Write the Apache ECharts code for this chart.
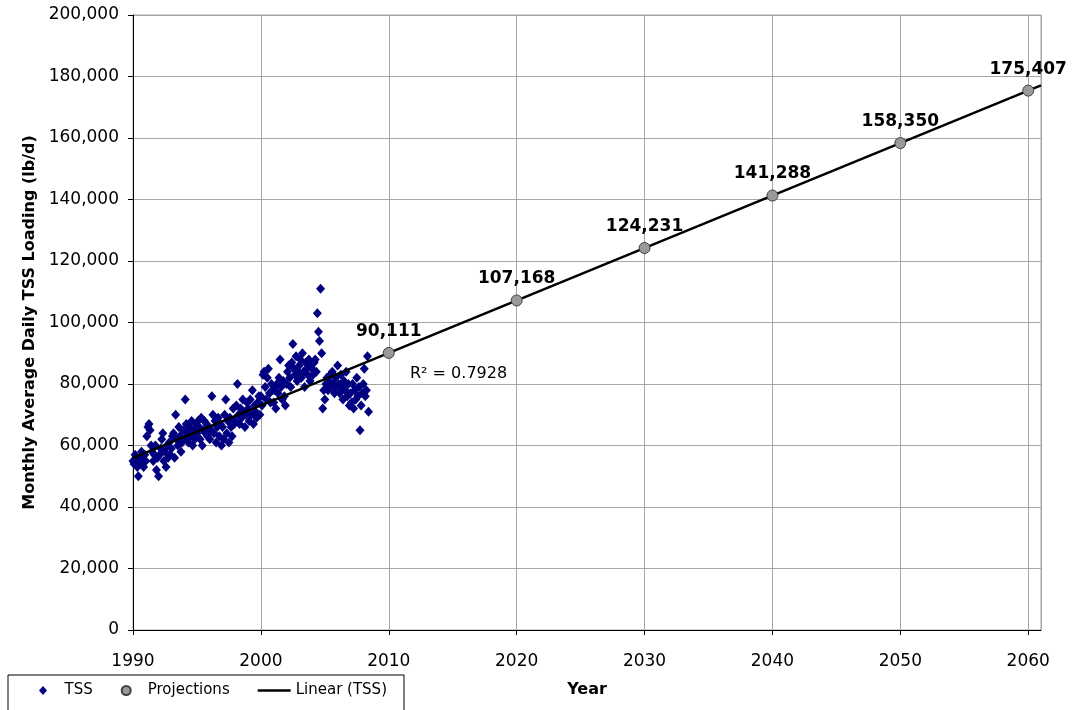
<!DOCTYPE html>
<html>
<head>
<meta charset="utf-8">
<script src="https://cdn.jsdelivr.net/npm/echarts@6/dist/echarts.min.js"></script>
<style>
  html, body { margin: 0; padding: 0; background: #fff; }
  #chart { width: 1072px; height: 710px; }
</style>
</head>
<body>
<div id="chart"></div>
<script>
// monthly TSS loading (lb/d), Jan 1990 onwards, one row per year
const tssStart = 1990;
const tssMonthly = [
  55000, 54000, 57000, 56000, 53000, 50000, 55000, 54000, 58000, 56000, 53000, 57000, // 1990
  55000, 63000, 66000, 67000, 65000, 60000, 58000, 55000, 57000, 60000, 52000, 56000, // 1991
  50000, 57000, 59000, 62000, 64000, 55000, 58000, 53000, 60000, 56000, 61000, 57000, // 1992
  59000, 63000, 64000, 56000, 70000, 62000, 60000, 66000, 63000, 58000, 61000, 65000, // 1993
  62000, 75000, 67000, 64000, 61000, 66000, 63000, 68000, 60000, 65000, 62000, 67000, // 1994
  64000, 68000, 66000, 62000, 69000, 60000, 65000, 68000, 64000, 67000, 63000, 66000, // 1995
  62000, 65000, 76000, 70000, 64000, 68000, 61000, 66000, 69000, 63000, 67000, 60000, // 1996
  66000, 62000, 70000, 75000, 64000, 68000, 61000, 69000, 66000, 63000, 72000, 67000, // 1997
  68000, 73000, 80000, 70000, 67000, 72000, 69000, 75000, 71000, 66000, 70000, 74000, // 1998
  72000, 68000, 75000, 70000, 78000, 67000, 73000, 71000, 69000, 74000, 76000, 70000, // 1999
  76000, 73000, 83000, 84000, 79000, 75000, 82000, 85000, 77000, 74000, 80000, 78000, // 2000
  74000, 78000, 72000, 80000, 77000, 82000, 88000, 79000, 75000, 81000, 76000, 73000, // 2001
  80000, 84000, 86000, 82000, 79000, 87000, 93000, 85000, 83000, 89000, 81000, 84000, // 2002
  86000, 88000, 82000, 90000, 84000, 79000, 87000, 85000, 83000, 88000, 81000, 86000, // 2003
  85000, 83000, 87000, 88000, 84000, 103000, 97000, 94000, 111000, 90000, 72000, 78000, // 2004
  75000, 80000, 82000, 78000, 81000, 83000, 79000, 84000, 80000, 77000, 82000, 79000, // 2005
  86000, 80000, 77000, 83000, 79000, 75000, 81000, 78000, 84000, 76000, 80000, 73000, // 2006
  77000, 74000, 80000, 72000, 78000, 75000, 82000, 76000, 79000, 65000, 73000, 77000, // 2007
  80000, 85000, 76000, 78000, 89000, 71000                                              // 2008
];

const projYears = [2010, 2020, 2030, 2040, 2050, 2060];
const projValues = [90111, 107168, 124231, 141288, 158350, 175407];

// linear trend of TSS, drawn across the whole plot
const trendYears = [1990, 2061];
const trendValues = [55993, 177113];

const chart = echarts.init(document.getElementById('chart'));
const font = 'DejaVu Sans, Verdana, sans-serif';
const fmt = v => Math.round(v).toLocaleString('en-US');

const tssData = tssMonthly.map((v, i) => [tssStart + i / 12, v]);
const projData = projYears.map((y, i) => [y, projValues[i]]);
const trendData = trendYears.map((y, i) => [y, trendValues[i]]);

const option = {
  animation: false,
  backgroundColor: '#fff',
  textStyle: { fontFamily: font, color: '#000' },
  grid: {
    left: 133, top: 15, right: 31, bottom: 80,
    show: true, borderColor: '#a6a6a6', borderWidth: 1
  },
  xAxis: {
    type: 'value',
    min: 1990, max: 2061, interval: 10,
    name: 'Year',
    nameLocation: 'middle',
    nameGap: 52,
    nameTextStyle: { fontSize: 16, fontWeight: 'bold', color: '#000', fontFamily: font },
    axisLine: { show: true, onZero: false, lineStyle: { color: '#000', width: 1 } },
    axisTick: { show: true, length: 5, lineStyle: { color: '#000' } },
    axisLabel: {
      fontSize: 17, color: '#000', margin: 23, showMaxLabel: false, fontFamily: font,
      formatter: v => String(v)
    },
    splitLine: { show: true, lineStyle: { color: '#a6a6a6', width: 1 } }
  },
  yAxis: {
    type: 'value',
    min: 0, max: 200000, interval: 20000,
    name: 'Monthly Average Daily TSS Loading (lb/d)',
    nameLocation: 'middle',
    nameGap: 95,
    nameTextStyle: { fontSize: 16, fontWeight: 'bold', color: '#000', fontFamily: font },
    axisLine: { show: true, lineStyle: { color: '#000', width: 1 } },
    axisTick: { show: true, length: 5, lineStyle: { color: '#000' } },
    axisLabel: { fontSize: 17, color: '#000', margin: 14, formatter: fmt, fontFamily: font },
    splitLine: { show: true, lineStyle: { color: '#a6a6a6', width: 1 } }
  },
  legend: {
    left: 8, top: 675,
    padding: [8, 17, 20, 31],
    itemGap: 28,
    itemWidth: 33, itemHeight: 9,
    symbolKeepAspect: true,
    borderColor: '#000', borderWidth: 1,
    textStyle: { fontSize: 15, color: '#000', fontFamily: font },
    data: [
      { name: 'TSS', icon: 'path://M4,0 L8,4.5 L4,9 L0,4.5 Z', symbolKeepAspect: true },
      { name: 'Projections', icon: 'circle', symbolKeepAspect: true },
      { name: 'Linear (TSS)', icon: 'path://M0,0 L33,0 L33,2.5 L0,2.5 Z', symbolKeepAspect: true }
    ]
  },
  graphic: [{
    type: 'text', left: 410, top: 366,
    style: { text: 'R² = 0.7928', fontSize: 16, fill: '#000', fontFamily: font }
  }],
  series: [
    {
      name: 'TSS', type: 'scatter', symbol: 'diamond', symbolSize: [9, 10],
      itemStyle: { color: '#000080', opacity: 1 },
      data: tssData, z: 3
    },
    {
      name: 'Linear (TSS)', type: 'line', showSymbol: false, symbol: 'none',
      lineStyle: { color: '#000', width: 2.5 },
      itemStyle: { color: '#000' },
      data: trendData, z: 4
    },
    {
      name: 'Projections', type: 'scatter', symbol: 'circle', symbolSize: 11,
      itemStyle: { color: '#999999', borderColor: '#404040', borderWidth: 1, opacity: 1 },
      label: {
        show: true, position: 'top', distance: 7,
        fontSize: 17, fontWeight: 'bold', color: '#000', fontFamily: font,
        formatter: p => fmt(p.value[1])
      },
      data: projData, z: 5
    }
  ]
};

chart.setOption(option);
</script>
</body>
</html>
